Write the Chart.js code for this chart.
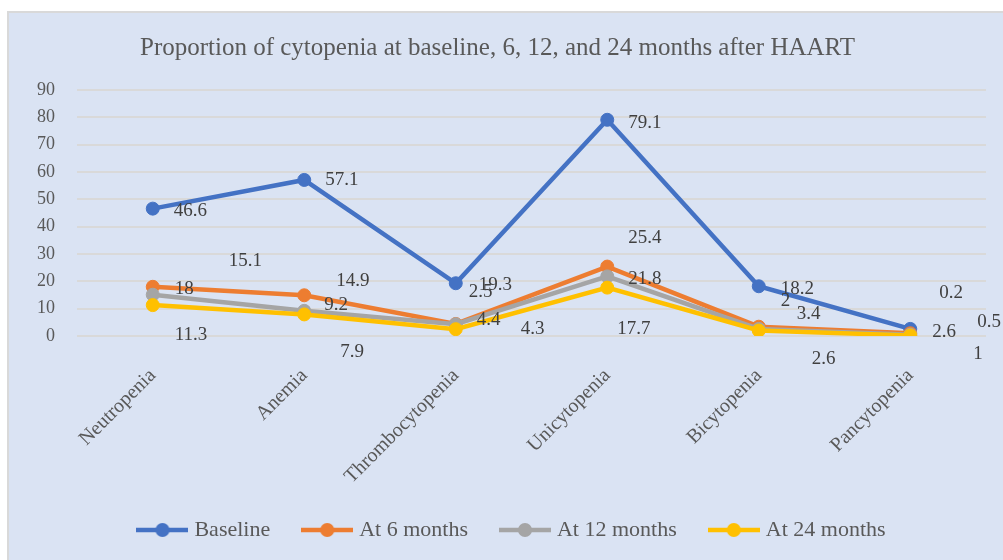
<!DOCTYPE html>
<html>
<head>
<meta charset="utf-8">
<script src="https://cdn.jsdelivr.net/npm/chart.js@4.4.1/dist/chart.umd.min.js"></script>
<style>
  body { margin: 0; background: #fff; }
  #frame { position: absolute; left: 7px; top: 11px; width: 1010px; height: 560px; border: 2px solid #d9d9d9; background: #dae3f3; }
  #wrap { position: relative; width: 994px; height: 547px; }
</style>
</head>
<body>
<div id="frame"><div id="wrap"><canvas id="cytopeniaChart"></canvas></div></div>
<script>
const categories = ['Neutropenia', 'Anemia', 'Thrombocytopenia', 'Unicytopenia', 'Bicytopenia', 'Pancytopenia'];
const baseline = [46.6, 57.1, 19.3, 79.1, 18.2, 2.6];
const sixMonths = [18, 14.9, 4.4, 25.4, 3.4, 1];
const twelveMonths = [15.1, 9.2, 4.3, 21.8, 2.6, 0.5];
const twentyFourMonths = [11.3, 7.9, 2.5, 17.7, 2, 0.2];
const yTicks = [0, 10, 20, 30, 40, 50, 60, 70, 80, 90];

// where each value label sits relative to its point (the source has them dragged around)
const labelNudge = [
    [[21, 2], [21, 0], [23, 2], [21, 3], [22, 3], [22, 3]],
    [[22, 2], [32, -14], [21, -4], [21, -29], [38, -13], [63, 21]],
    [[76, -34], [20, -6], [65, 5], [21, 3], [53, 30], [67, -13]],
    [[22, 30], [36, 38], [13, -37], [10, 41], [22, -30], [29, -42]]
];

const serif = "'Liberation Serif', 'Times New Roman', serif";
const textGrey = '#595959';

function makeMarker(color) {
    const c = document.createElement('canvas');
    c.width = 52;
    c.height = 16;
    const g = c.getContext('2d');
    g.strokeStyle = color;
    g.lineWidth = 4.5;
    g.beginPath();
    g.moveTo(0, 8);
    g.lineTo(52, 8);
    g.stroke();
    g.fillStyle = color;
    g.beginPath();
    g.arc(26, 8, 7, 0, Math.PI * 2);
    g.fill();
    return c;
}

const valueLabels = {
    id: 'valueLabels',
    afterDatasetsDraw(chart) {
        const ctx = chart.ctx;
        ctx.save();
        ctx.font = '19px ' + serif;
        ctx.fillStyle = '#404040';
        ctx.textAlign = 'left';
        ctx.textBaseline = 'middle';
        chart.data.datasets.forEach((ds, i) => {
            const meta = chart.getDatasetMeta(i);
            meta.data.forEach((pt, j) => {
                const [dx, dy] = labelNudge[i][j];
                ctx.fillText(String(ds.data[j]), pt.x + dx, pt.y + dy);
            });
        });
        ctx.restore();
    }
};

// legend in the source is centred on the whole frame, not the plot
const legendShift = {
    id: 'legendShift',
    afterLayout(chart) {
        chart.legend.left += 16;
        chart.legend.right += 16;
    }
};

function series(label, data, color, order) {
    return {
        label: label,
        data: data,
        borderColor: color,
        backgroundColor: color,
        pointBackgroundColor: color,
        pointBorderColor: color,
        borderWidth: 4.5,
        pointRadius: 6.5,
        pointBorderWidth: 1,
        tension: 0,
        order: order
    };
}

const datasets = [
    series('Baseline', baseline, '#4472c4', 4),
    series('At 6 months', sixMonths, '#ed7d31', 3),
    series('At 12 months', twelveMonths, '#a5a5a5', 2),
    series('At 24 months', twentyFourMonths, '#ffc000', 1)
];
const markers = datasets.map(ds => makeMarker(ds.borderColor));

new Chart(document.getElementById('cytopeniaChart').getContext('2d'), {
    type: 'line',
    data: { labels: categories, datasets: datasets },
    plugins: [valueLabels, legendShift],
    options: {
        responsive: true,
        maintainAspectRatio: false,
        animation: false,
        layout: { padding: { left: 0, right: 17, top: 0, bottom: 9 } },
        plugins: {
            tooltip: { enabled: false },
            title: {
                display: true,
                text: 'Proportion of cytopenia at baseline, 6, 12, and 24 months after HAART',
                color: textGrey,
                font: { family: serif, size: 25, weight: 'normal' },
                padding: { top: 20, bottom: 27 }
            },
            legend: {
                position: 'bottom',
                labels: {
                    usePointStyle: true,
                    pointStyleWidth: 42,
                    padding: 36,
                    color: textGrey,
                    font: { family: serif, size: 22 },
                    generateLabels: chart => chart.data.datasets.map((ds, i) => ({
                        text: ds.label,
                        pointStyle: markers[i],
                        fillStyle: ds.borderColor,
                        strokeStyle: ds.borderColor,
                        lineWidth: 0,
                        hidden: false,
                        datasetIndex: i,
                        fontColor: textGrey
                    }))
                }
            }
        },
        scales: {
            x: {
                offset: true,
                grid: { display: false },
                border: { display: false },
                ticks: {
                    minRotation: 45,
                    maxRotation: 45,
                    padding: 20,
                    color: textGrey,
                    font: { family: serif, size: 20 }
                },
                afterFit: scale => { scale.height = 147; }
            },
            y: {
                min: yTicks[0],
                max: yTicks[yTicks.length - 1],
                grid: { color: '#d9d9d9', lineWidth: 2, drawTicks: false },
                border: { display: false },
                ticks: {
                    stepSize: yTicks[1] - yTicks[0],
                    padding: 22,
                    color: textGrey,
                    font: { family: serif, size: 18 }
                },
                afterFit: scale => { scale.width = 68; }
            }
        }
    }
});
</script>
</body>
</html>
